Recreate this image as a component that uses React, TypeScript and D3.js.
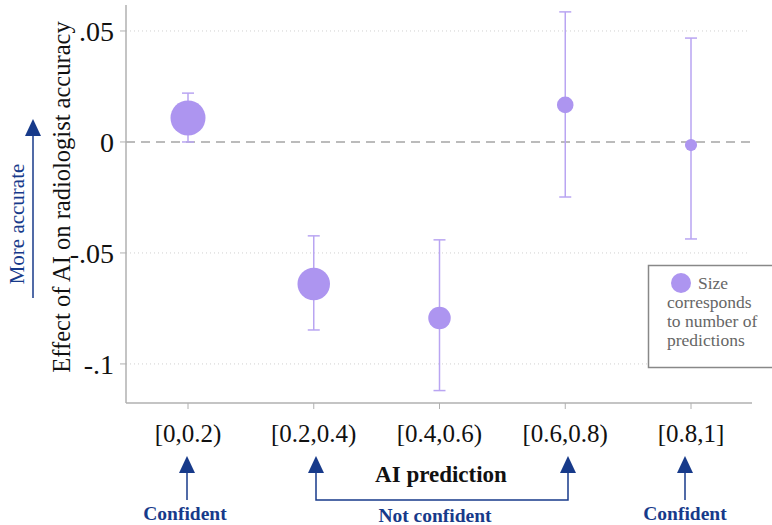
import React from 'react';
import * as d3 from 'd3';

const categories = ['[0,0.2)', '[0.2,0.4)', '[0.4,0.6)', '[0.6,0.8)', '[0.8,1]'];
const estimates = [0.0108, -0.064, -0.0793, 0.0167, -0.0014];
const lowerCI = [0.0, -0.0847, -0.112, -0.0248, -0.0437];
const upperCI = [0.022, -0.0423, -0.0441, 0.0586, 0.0468];
const counts = [290, 250, 120, 65, 35];
const yTicks = [0.05, 0, -0.05, -0.1];
const yTickLabels = ['.05', '0', '-.05', '-.1'];

const W = 772;
const H = 525;
const left = 126;
const right = 750;
const top = 5;
const bottom = 403;

const serif = '"Liberation Serif", "DejaVu Serif", serif';
const navy = '#173a8a';
const purple = '#ad95f0';

const App = () => {
  const y = d3.scaleLinear().domain([-0.1176, 0.0617]).range([bottom, top]);
  const x = d3.scalePoint().domain(categories).range([188, 691]);
  const r = d3.scaleSqrt().domain([0, 290]).range([0, 17.5]);

  return (
    <svg width={W} height={H} style={{ position: 'absolute', left: 0, top: 0 }}>
      {/* gridlines */}
      {yTicks.filter(t => t !== 0).map(t => (
        <line key={t} x1={left} x2={right} y1={y(t)} y2={y(t)} stroke="#d0d0d0" strokeDasharray="1,3" />
      ))}
      <line x1={left} x2={right} y1={y(0)} y2={y(0)} stroke="#bbbbbb" strokeWidth={2} strokeDasharray="9,6" />

      {/* axes */}
      <line x1={left} x2={left} y1={top} y2={bottom} stroke="#b0b0b0" strokeWidth={1.5} />
      <line x1={left} x2={right + 2} y1={bottom} y2={bottom} stroke="#b0b0b0" strokeWidth={1.5} />
      {yTicks.map((t, i) => (
        <g key={t}>
          <line x1={left - 6} x2={left} y1={y(t)} y2={y(t)} stroke="#b0b0b0" />
          <text x={114} y={y(t)} dy="0.35em" textAnchor="end" fontFamily={serif} fontSize={28} fill="#111">
            {yTickLabels[i]}
          </text>
        </g>
      ))}
      {categories.map(c => (
        <g key={c}>
          <line x1={x(c)} x2={x(c)} y1={bottom} y2={bottom + 6} stroke="#b0b0b0" />
          <text x={x(c)} y={442} textAnchor="middle" fontFamily={serif} fontSize={25} fill="#111">{c}</text>
        </g>
      ))}

      {/* error bars and points */}
      {categories.map((c, i) => {
        const cx = x(c) as number;
        return (
          <g key={c}>
            <line x1={cx} x2={cx} y1={y(lowerCI[i])} y2={y(upperCI[i])} stroke="#b9a5f2" strokeWidth={1.5} />
            <line x1={cx - 6} x2={cx + 6} y1={y(lowerCI[i])} y2={y(lowerCI[i])} stroke="#b9a5f2" strokeWidth={1.5} />
            <line x1={cx - 6} x2={cx + 6} y1={y(upperCI[i])} y2={y(upperCI[i])} stroke="#b9a5f2" strokeWidth={1.5} />
            <circle cx={cx} cy={y(estimates[i])} r={r(counts[i])} fill={purple} />
          </g>
        );
      })}

      {/* titles */}
      <text transform={`translate(70,197) rotate(-90)`} textAnchor="middle" fontFamily={serif} fontSize={24.5} fill="#111">
        Effect of AI on radiologist accuracy
      </text>
      <text x={441} y={482} textAnchor="middle" fontFamily={serif} fontSize={23} fontWeight="bold" fill="#111">AI prediction</text>

      {/* legend */}
      <rect x={648.5} y={265.5} width={125} height={102} fill="white" stroke="#888" strokeWidth={1.5} />
      <circle cx={681} cy={283} r={10} fill={purple} />
      <text fontFamily={serif} fontSize={17.5} fill="#666">
        <tspan x={698} y={289}>Size</tspan>
        <tspan x={667} y={308}>corresponds</tspan>
        <tspan x={667} y={327}>to number of</tspan>
        <tspan x={667} y={346}>predictions</tspan>
      </text>

      {/* annotation arrows */}
      <g stroke={navy} strokeWidth={1.5} fill="none">
        <line x1={33} x2={33} y1={298} y2={136} />
        <path d="M25,136 L33,119 L41,136 Z" fill={navy} stroke="none" />
        <line x1={187} x2={187} y1={500} y2={472} />
        <path d="M179,473 L187,456 L195,473 Z" fill={navy} stroke="none" />
        <path d={`M316,472 L316,500 L568,500 L568,472`} />
        <path d="M308,473 L316,456 L324,473 Z" fill={navy} stroke="none" />
        <path d="M560,473 L568,456 L576,473 Z" fill={navy} stroke="none" />
        <line x1={685} x2={685} y1={500} y2={472} />
        <path d="M677,473 L685,456 L693,473 Z" fill={navy} stroke="none" />
      </g>
      <text transform={`translate(24,224) rotate(-90)`} textAnchor="middle" fontFamily={serif} fontSize={21} fill={navy}>
        More accurate
      </text>
      <text x={185} y={520} textAnchor="middle" fontFamily={serif} fontSize={19.5} fontWeight="bold" fill={navy}>Confident</text>
      <text x={435} y={522} textAnchor="middle" fontFamily={serif} fontSize={19.5} fontWeight="bold" fill={navy}>Not confident</text>
      <text x={685} y={520} textAnchor="middle" fontFamily={serif} fontSize={19.5} fontWeight="bold" fill={navy}>Confident</text>
    </svg>
  );
};

export default App;
